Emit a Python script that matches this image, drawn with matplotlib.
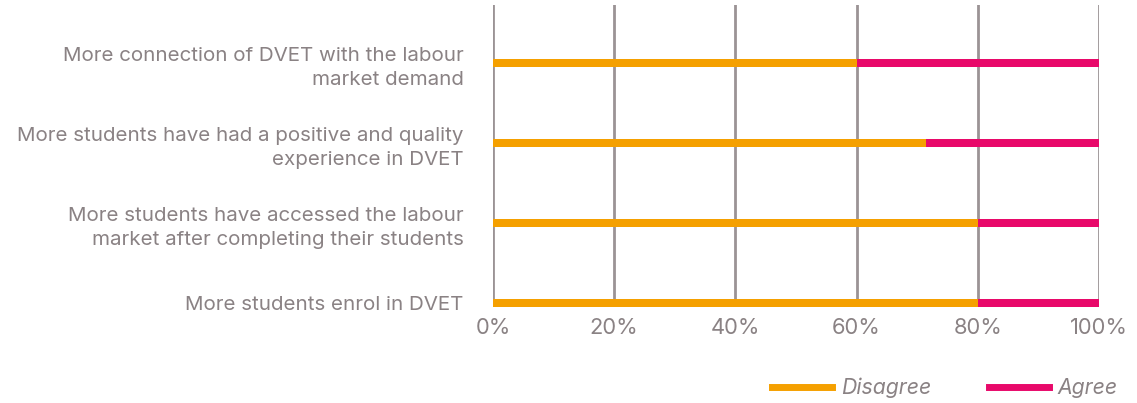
import matplotlib
matplotlib.use("Agg")
import matplotlib.pyplot as plt
from matplotlib.lines import Line2D

categories = [
    "More students enrol in DVET",
    "More students have accessed the labour\nmarket after completing their students",
    "More students have had a positive and quality\nexperience in DVET",
    "More connection of DVET with the labour\nmarket demand",
]
disagree = [80, 80, 71.4, 60]
agree = [20, 20, 28.6, 40]
series_names = ["Disagree", "Agree"]
xticks = [0, 20, 40, 60, 80, 100]

ORANGE = "#F5A000"
PINK = "#E8096A"
TEXT = "#8a8284"
GRID = "#9b9395"

plt.rcParams['font.family'] = ['Inter', 'DejaVu Sans']

fig = plt.figure(figsize=(11.37, 4.03), dpi=100)
ax = fig.add_axes([493/1137, 1-307/403, (1099-493)/1137, (307-5)/403])

y = list(range(len(categories)))
h = 0.09
ax.barh(y, disagree, height=h, color=ORANGE, zorder=3)
ax.barh(y, agree, left=disagree, height=h, color=PINK, zorder=3)

ax.set_xlim(0, 100)
ax.set_ylim(-0.05, 3.725)
ax.set_xticks(xticks)
ax.set_xticklabels([f"{v}%" for v in xticks])
ax.set_yticks(y)
ax.set_yticklabels(categories, ha='right', linespacing=1.4)
ax.tick_params(axis='y', length=0, colors=TEXT, labelsize=14.8, pad=21)
ax.tick_params(axis='x', length=0, colors=TEXT, labelsize=15.8, pad=8)
for s in ax.spines.values():
    s.set_visible(False)
ax.grid(axis='x', color=GRID, linewidth=2, zorder=1)
ax.grid(axis='y', visible=False)

handles = [Line2D([0], [0], color=ORANGE, lw=5), Line2D([0], [0], color=PINK, lw=5)]
leg = fig.legend(handles, series_names, loc='center right', bbox_to_anchor=(1137/1137, 1-388/403),
                 ncol=2, frameon=False, handlelength=2.8, handletextpad=0.42, columnspacing=2.75,
                 prop={'style': 'italic', 'size': 15.3})
for t in leg.get_texts():
    t.set_color(TEXT)

fig.savefig("out.png", dpi=100)
